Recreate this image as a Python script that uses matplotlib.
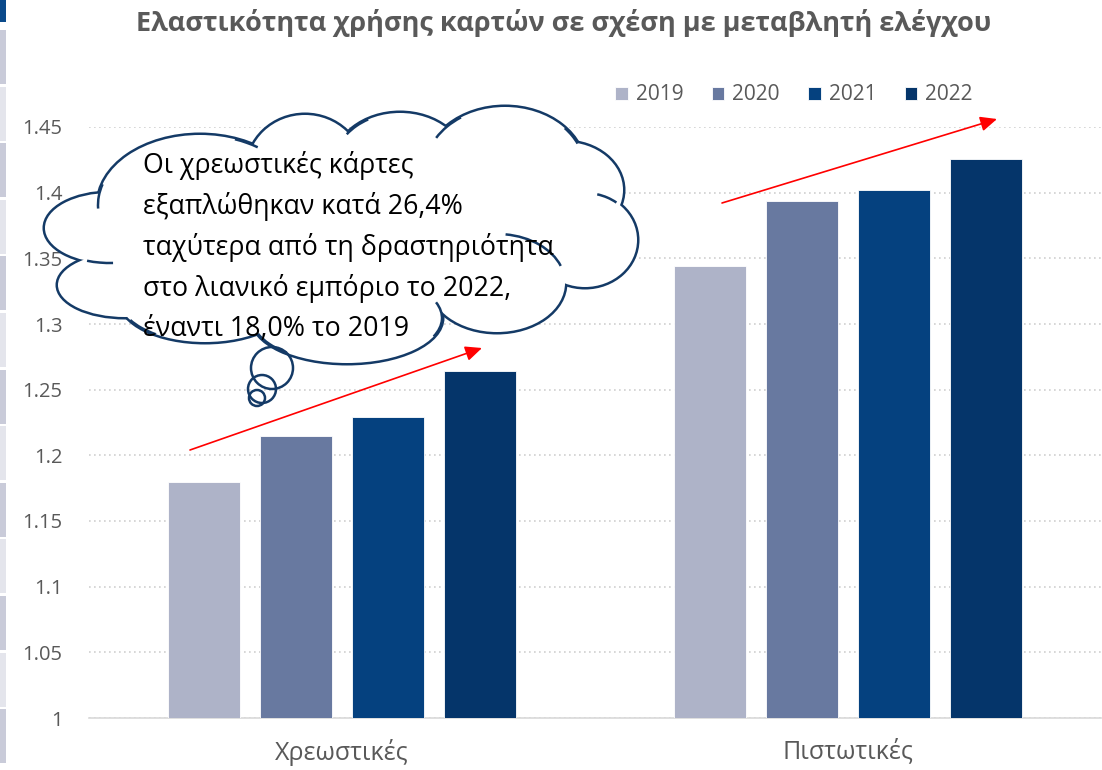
import matplotlib
matplotlib.use("Agg")
import matplotlib.pyplot as plt
from matplotlib.patches import Ellipse, Arc, Circle, Rectangle
import numpy as np

plt.rcParams['font.family'] = ['Open Sans', 'DejaVu Sans']

# data
categories = ['Χρεωστικές', 'Πιστωτικές']
years = ['2019', '2020', '2021', '2022']
values_2019 = [1.180, 1.344]
values_2020 = [1.215, 1.394]
values_2021 = [1.229, 1.402]
values_2022 = [1.264, 1.426]
series = [values_2019, values_2020, values_2021, values_2022]
colors = ['#AEB3C8', '#6879A0', '#05417F', '#05356A']
yticks = [1.0, 1.05, 1.1, 1.15, 1.2, 1.25, 1.3, 1.35, 1.4, 1.45]
ytick_labels = ['1', '1.05', '1.1', '1.15', '1.2', '1.25', '1.3', '1.35', '1.4', '1.45']
title = 'Ελαστικότητα χρήσης καρτών σε σχέση με μεταβλητή ελέγχου'
note = ['Οι χρεωστικές κάρτες',
        'εξαπλώθηκαν κατά 26,4%',
        'ταχύτερα από τη δραστηριότητα',
        'στο λιανικό εμπόριο το 2022,',
        'έναντι 18,0% το 2019']

W, H = 1102, 770
fig = plt.figure(figsize=(W / 100, H / 100), dpi=100)
fig.patch.set_facecolor('white')

ax = fig.add_axes([89 / W, 52 / H, 1012 / W, 591 / H])
x = np.arange(len(categories))
bw = 0.142
step = 0.182
for i, vals in enumerate(series):
    off = (i - 1.5) * step
    ax.bar(x + off, np.array(vals) - 1.0, bw, bottom=1.0, color=colors[i],
           edgecolor='white', linewidth=0.6, label=years[i], zorder=3)

ax.set_xlim(-0.5, 1.5)
ax.set_ylim(1.0, 1.45)
ax.set_yticks(yticks)
ax.set_yticklabels(ytick_labels)
ax.set_xticks(x)
ax.set_xticklabels(categories)
ax.tick_params(length=0, colors='#595959')
ax.tick_params(axis='x', pad=15, labelsize=18)
ax.tick_params(axis='y', pad=19, labelsize=14.5)
for s in ['top', 'right', 'left']:
    ax.spines[s].set_visible(False)
ax.spines['bottom'].set_color('#D9D9D9')
ax.spines['bottom'].set_linewidth(1.2)
ax.yaxis.grid(True, color='#D0D0D0', linestyle=(0, (1, 2)), linewidth=1.2, zorder=0)
ax.set_axisbelow(True)

fig.text(564 / W, 1 - 23 / H, title, ha='center', va='center', fontsize=19.5,
         fontweight='bold', color='#595959')

handles, labels = ax.get_legend_handles_labels()
fig.legend(handles, labels, loc='center', bbox_to_anchor=(794 / W, 1 - 95 / H), ncol=4,
           frameon=False, fontsize=15, handlelength=0.6, handleheight=0.6,
           handletextpad=0.4, columnspacing=1.35, labelcolor='#595959')

# overlay in pixel coordinates for the callout and arrows
ov = fig.add_axes([0, 0, 1, 1], zorder=5)
ov.set_xlim(0, W)
ov.set_ylim(H, 0)
ov.axis('off')

# left-edge slide decoration
ov.add_patch(Rectangle((0, 0), 6, 22, color='#0B4A8B', lw=0))
for k in range(13):
    ov.add_patch(Rectangle((0, 30 + k * 56.6), 6, 54, lw=0,
                           color='#C9CBD9' if k % 2 == 0 else '#E4E5EC'))

line_c = '#143A66'
lobes = [(200, 205, 102, 70), (110, 228, 65, 35), (125, 285, 67, 32),
         (205, 300, 85, 42), (347, 318, 95, 45), (497, 283, 68, 49),
         (585, 240, 52, 47), (565, 190, 58, 48), (505, 170, 80, 63),
         (400, 165, 66, 52), (305, 170, 58, 55)]
for cx, cy, rx, ry in lobes:
    ov.add_patch(Ellipse((cx, cy), 2 * rx, 2 * ry, facecolor='white',
                         edgecolor=line_c, lw=3.6, zorder=1))
for cx, cy, rx, ry in lobes + [(340, 235, 230, 85)]:
    ov.add_patch(Ellipse((cx, cy), 2 * rx, 2 * ry, facecolor='white',
                         edgecolor='none', zorder=2))
hooks = [(1, 85, 125), (0, 178, 192), (4, -10, 12), (5, -80, -15), (6, -75, -50),
         (8, -35, -20), (8, -155, -130), (9, -150, -125), (0, -62, -45),
         (4, 150, 170), (3, 145, 165)]
for idx, t1, t2 in hooks:
    cx, cy, rx, ry = lobes[idx]
    ov.add_patch(Arc((cx, cy), 2 * rx, 2 * ry, theta1=t1, theta2=t2,
                     color=line_c, lw=1.8, zorder=3))
for cx, cy, r in [(272, 368, 21), (262, 389, 14), (257, 398, 8)]:
    ov.add_patch(Circle((cx, cy), r, facecolor='none', edgecolor=line_c, lw=1.8, zorder=3))

ov.text(143, 151, '\n'.join(note), ha='left', va='top', fontsize=19.3,
        color='black', linespacing=1.55, zorder=4)

for (x0, y0), (x1, y1) in [((190, 450), (482, 348)), ((722, 203), (997, 119))]:
    ov.annotate('', xy=(x1, y1), xytext=(x0, y0),
                arrowprops=dict(arrowstyle='-|>,head_length=1.0,head_width=0.45',
                                color='#FF0000', lw=1.2, shrinkA=0, shrinkB=0))

fig.savefig('out.png', dpi=100)
